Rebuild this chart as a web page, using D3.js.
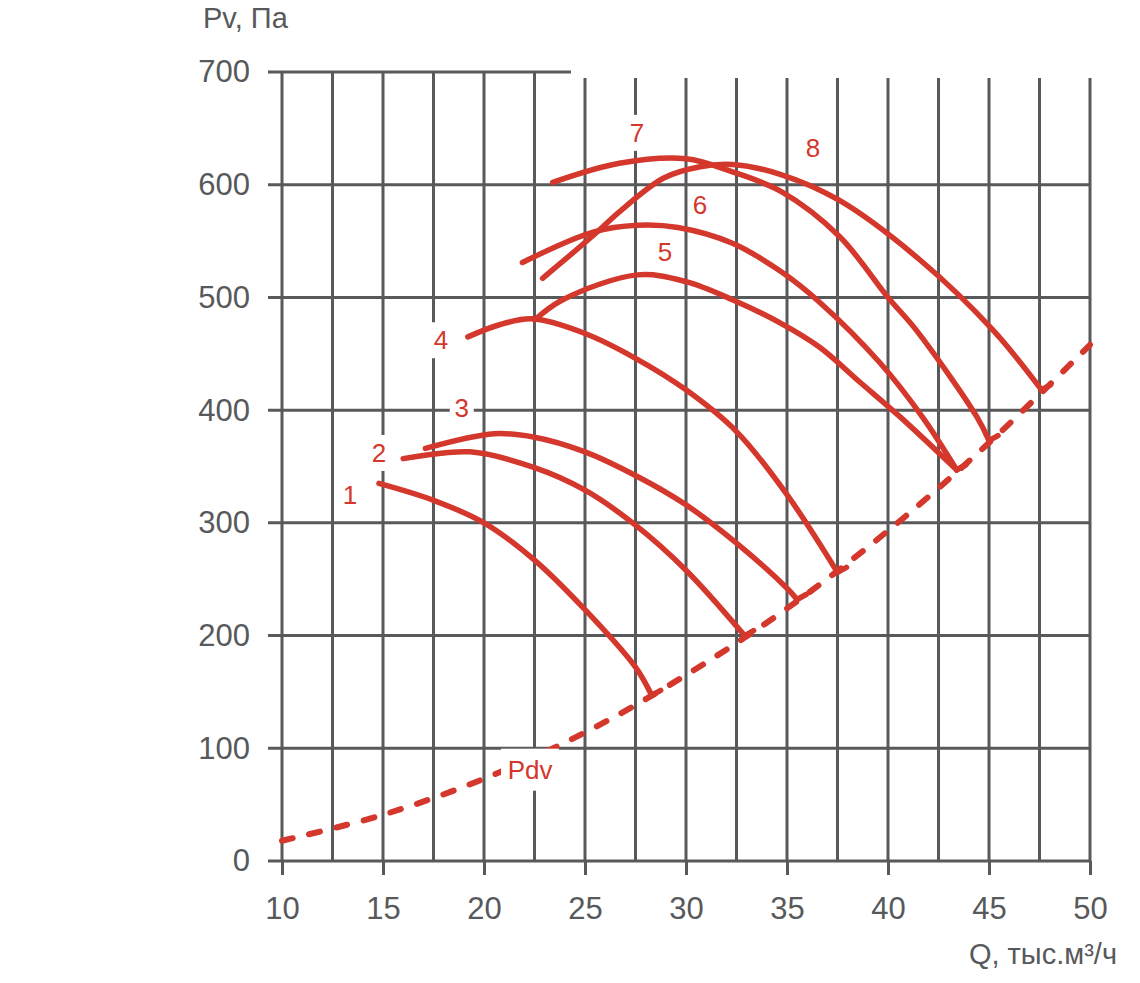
<!DOCTYPE html>
<html>
<head>
<meta charset="utf-8">
<script src="https://cdn.jsdelivr.net/npm/d3@7"></script>
<style>
  body { margin: 0; background: #fff; }
  text { font-family: "Liberation Sans Narrow", "Liberation Sans", sans-serif; font-stretch: condensed; }
</style>
</head>
<body>
<svg width="1140" height="983"></svg>
<script>
// fan curves, Q (тыс.м3/ч) and Pv (Па)
const curve1 = [[14.8,335],[17.5,320],[20,300],[22.5,267],[25,223],[27.5,172],[28.3,147]];
const curve2 = [[16.0,357],[19.3,363],[22.5,349],[25,329],[27.5,298],[30,258],[32.9,200]];
const curve3 = [[17.1,366],[20.5,379],[22.5,376],[25,363],[27.5,342],[30,316],[32.5,282],[35,242],[35.5,232]];
const curve4 = [[19.2,465],[20.8,476],[22.4,481],[25,468],[27.5,446],[30,418],[32.5,381],[35,325],[37.5,256]];
const curve5 = [[22.5,480],[23.9,498],[27.6,520],[30,514],[32.3,498],[34.7,477],[36.6,456],[38.6,425],[40.6,394],[43.4,347]];
const curve6 = [[21.9,531],[25.4,558],[27.6,564],[29.6,562],[32.3,548],[34.7,523],[36.6,496],[39.6,442],[41.7,394],[43.4,347]];
const curve7 = [[23.4,602],[26.7,619],[30.0,623],[32.2,612],[34.7,594],[37.6,554],[40.0,500],[41.4,471],[44.4,394],[45.0,373]];
const curve8 = [[22.9,517],[25.6,558],[26.7,576],[28.9,606],[30.7,616],[32.3,618],[34.7,609],[37.6,586],[41.6,533],[45.2,471],[47.6,418]];
const curves = [curve1, curve2, curve3, curve4, curve5, curve6, curve7, curve8];

// dynamic pressure line
const pdvQ = [10, 15, 20, 25, 30, 35, 40, 45, 50];
const pdvP = [18, 41, 73, 114, 165, 224, 293, 371, 458];

// curve labels (text, Q, Pv)
const labelText = ["1", "2", "3", "4", "5", "6", "7", "8", "Pdv"];
const labelQ = [13.37, 14.8, 18.9, 17.87, 28.96, 30.69, 27.57, 36.29, 22.28];
const labelP = [325, 362, 402, 462, 540, 582, 646, 633, 81];

const xTicks = [10, 15, 20, 25, 30, 35, 40, 45, 50];
const yTicks = [0, 100, 200, 300, 400, 500, 600, 700];

const red = "#d4372b";
const grey = "#58595b";

const svg = d3.select("svg");
const x = d3.scaleLinear().domain([10, 50]).range([282, 1090]);
const y = d3.scaleLinear().domain([0, 700]).range([861, 72]);

const grid = svg.append("g");

// vertical grid every 2.5
grid.selectAll("line.v")
  .data(d3.range(10, 50.01, 2.5))
  .enter().append("line")
  .attr("x1", d => x(d)).attr("x2", d => x(d))
  .attr("y1", y(700)).attr("y2", y(0))
  .attr("stroke", grey).attr("stroke-width", 3);

// horizontal grid
grid.selectAll("line.h")
  .data(yTicks)
  .enter().append("line")
  .attr("x1", 268).attr("x2", x(50))
  .attr("y1", d => y(d)).attr("y2", d => y(d))
  .attr("stroke", grey).attr("stroke-width", 3);

// top-right corner of the grid is cut off in the original
svg.append("rect")
  .attr("x", 571).attr("y", 0).attr("width", 569).attr("height", 78)
  .attr("fill", "#fff");

// X axis
const xAxis = svg.append("g")
  .attr("transform", `translate(0,${y(0)})`)
  .call(d3.axisBottom(x).tickValues(xTicks).tickSize(14).tickPadding(22).tickFormat(d3.format("d")));
xAxis.select(".domain").remove();
xAxis.selectAll("line").attr("stroke", grey).attr("stroke-width", 3);
xAxis.selectAll("text").attr("fill", grey).attr("font-size", 31).attr("font-family", null);

// Y axis
const yAxis = svg.append("g")
  .attr("transform", `translate(250,0)`)
  .call(d3.axisLeft(y).tickValues(yTicks).tickSize(0).tickPadding(0).tickFormat(d3.format("d")));
yAxis.select(".domain").remove();
yAxis.selectAll("text").attr("fill", grey).attr("font-size", 31).attr("font-family", null);

// axis titles
svg.append("text")
  .attr("x", 203).attr("y", 28)
  .attr("fill", grey).attr("font-size", 29)
  .text("Pv, Па");

svg.append("text")
  .attr("x", 1117).attr("y", 964)
  .attr("text-anchor", "end")
  .attr("fill", grey).attr("font-size", 29)
  .text("Q, тыс.м³/ч");

// Pdv dashed line
const line = d3.line()
  .x(d => x(d[0]))
  .y(d => y(d[1]))
  .curve(d3.curveCatmullRom.alpha(0.5));

svg.append("path")
  .datum(pdvQ.map((q, i) => [q, pdvP[i]]))
  .attr("d", line)
  .attr("fill", "none")
  .attr("stroke", red)
  .attr("stroke-width", 6)
  .attr("stroke-linecap", "round")
  .attr("stroke-dasharray", "11,17");

// fan curves
const curveG = svg.append("g");
curves.forEach(c => {
  curveG.append("path")
    .datum(c)
    .attr("d", line)
    .attr("fill", "none")
    .attr("stroke", red)
    .attr("stroke-width", 5.5)
    .attr("stroke-linecap", "round")
    .attr("stroke-linejoin", "round");

  // small hook where the curve meets Pdv
  const end = c[c.length - 1];
  curveG.append("line")
    .attr("x1", x(end[0])).attr("y1", y(end[1]))
    .attr("x2", x(end[0]) + 9).attr("y2", y(end[1]) - 5)
    .attr("stroke", red)
    .attr("stroke-width", 5.5)
    .attr("stroke-linecap", "round");
});

// labels with white boxes, on top of the lines
const labels = svg.append("g");
labelText.forEach((t, i) => {
  const cx = x(labelQ[i]), cy = y(labelP[i]);
  const w = t.length > 1 ? 58 : 24;
  const h = t.length > 1 ? 42 : 36;
  labels.append("rect")
    .attr("x", cx - w / 2).attr("y", cy - h / 2)
    .attr("width", w).attr("height", h)
    .attr("fill", "#fff");
  labels.append("text")
    .attr("x", cx).attr("y", cy + 9)
    .attr("text-anchor", "middle")
    .attr("fill", red).attr("font-size", 26)
    .text(t);
});
</script>
</body>
</html>
